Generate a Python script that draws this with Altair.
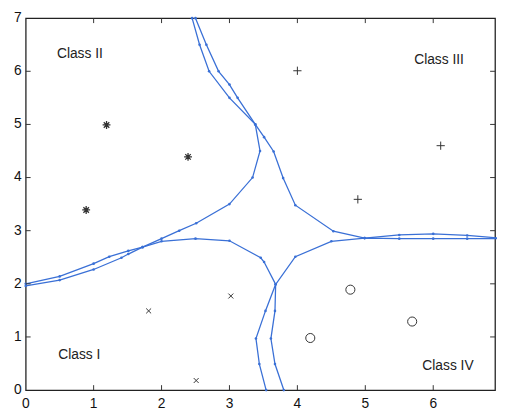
import altair as alt
import pandas as pd

# ---- data ----
segA_x = [2.45, 2.56, 2.70, 3.00, 3.38, 3.45, 3.34, 3.00, 2.51, 2.26, 2.00, 1.72, 1.51, 1.41, 1.00, 0.50, 0.00]
segA_y = [7.00, 6.50, 6.00, 5.50, 5.00, 4.50, 4.00, 3.50, 3.14, 3.00, 2.85, 2.69, 2.56, 2.49, 2.27, 2.07, 1.96]

segB_x = [2.50, 2.66, 2.84, 3.00, 3.12, 3.38, 3.51, 3.65, 3.79, 3.97, 4.53, 4.99, 5.50, 6.00, 6.50, 7.00]
segB_y = [7.00, 6.50, 6.00, 5.75, 5.50, 5.00, 4.76, 4.49, 3.99, 3.48, 2.99, 2.86, 2.92, 2.94, 2.91, 2.86]

segC_x = [0.00, 0.50, 1.00, 1.23, 1.51, 1.72, 2.00, 2.50, 3.00, 3.46, 3.51, 3.68, 3.53, 3.39, 3.44, 3.54]
segC_y = [2.00, 2.14, 2.38, 2.51, 2.62, 2.69, 2.80, 2.85, 2.81, 2.49, 2.41, 1.99, 1.49, 0.97, 0.49, 0.00]

segD_x = [7.00, 6.50, 6.00, 5.50, 4.99, 4.50, 3.97, 3.68, 3.67, 3.61, 3.67, 3.80]
segD_y = [2.85, 2.85, 2.85, 2.85, 2.86, 2.80, 2.51, 1.99, 1.49, 0.97, 0.49, 0.00]

class1_x = [1.81, 3.02, 2.51]
class1_y = [1.49, 1.77, 0.18]
class2_x = [1.19, 2.39, 0.89]
class2_y = [4.99, 4.39, 3.39]
class3_x = [4.00, 6.11, 4.89]
class3_y = [6.01, 4.60, 3.59]
class4_x = [4.78, 5.69, 4.19]
class4_y = [1.89, 1.29, 0.98]
star_x = [4.99]
star_y = [5.01]

label_text = ["Class II", "Class III", "Class I", "Class IV"]
label_x = [0.46, 5.72, 0.48, 5.84]
label_y = [6.33, 6.21, 0.65, 0.45]

x_ticks = [0, 1, 2, 3, 4, 5, 6]
x_tick_labels = ["0", "1", "2", "3", "4", "5", "6"]
y_ticks = [0, 1, 2, 3, 4, 5, 6, 7]
inner_x_ticks = [1, 2, 3, 4, 5, 6]
inner_y_ticks = [1, 2, 3, 4, 5, 6]

W, H = 477, 378
XMAX = 6.91
FONT = "Liberation Sans"
BLUE = "#3a70d6"
MARK = "#333333"
TC = "#333333"

xs = alt.Scale(domain=[0, XMAX], nice=False, zero=False)
ys = alt.Scale(domain=[0, 7], nice=False, zero=False)

YAXIS = alt.Axis(values=y_ticks, format="d", tickSize=0, domain=False, grid=False,
                 labelFontSize=14, labelColor="#111", labelPadding=4, title=None,
                 labelFlush=False, orient="left")


def X(field):
    return alt.X(field, type="quantitative", scale=xs, axis=None)


def Y(field):
    return alt.Y(field, type="quantitative", scale=ys, axis=YAXIS)


layers = []

lab_df = pd.DataFrame({"t": label_text, "x": label_x, "y": label_y})
layers.append(alt.Chart(lab_df).mark_text(
    align="left", baseline="middle", fontSize=14, color="#222"
).encode(x=X("x"), y=Y("y"), text=alt.Text("t", type="nominal")))

for xv, yv in [(segA_x, segA_y), (segB_x, segB_y), (segC_x, segC_y), (segD_x, segD_y)]:
    df = pd.DataFrame({"x": xv, "y": yv, "i": list(range(len(xv)))})
    layers.append(alt.Chart(df).mark_line(color=BLUE, strokeWidth=1.3, clip=True).encode(
        x=X("x"), y=Y("y"), order=alt.Order("i", type="quantitative")))
    layers.append(alt.Chart(df).mark_circle(color=BLUE, size=7, opacity=1, clip=True).encode(
        x=X("x"), y=Y("y")))

tx = pd.DataFrame({"v": inner_x_ticks})
ty = pd.DataFrame({"v": inner_y_ticks})
layers.append(alt.Chart(tx).mark_rule(color=TC, strokeWidth=1).encode(
    x=X("v"), y=alt.value(H), y2=alt.value(H - 5)))
layers.append(alt.Chart(tx).mark_rule(color=TC, strokeWidth=1).encode(
    x=X("v"), y=alt.value(0), y2=alt.value(5)))
layers.append(alt.Chart(ty).mark_rule(color=TC, strokeWidth=1).encode(
    y=Y("v"), x=alt.value(0), x2=alt.value(5)))
layers.append(alt.Chart(ty).mark_rule(color=TC, strokeWidth=1).encode(
    y=Y("v"), x=alt.value(W), x2=alt.value(W - 5)))

# x tick labels, placed through the x scale just below the plot frame
xl = pd.DataFrame({"v": x_ticks, "t": x_tick_labels})
layers.append(alt.Chart(xl).mark_text(
    align="center", baseline="top", fontSize=14, color="#111"
).encode(x=X("v"), y=alt.value(H + 7), text=alt.Text("t", type="nominal")))


def pts(xv, yv, shape, size, filled=False, color=MARK, sw=1.0):
    df = pd.DataFrame({"x": xv, "y": yv})
    return alt.Chart(df).mark_point(shape=shape, size=size, filled=filled, color=color,
                                    strokeWidth=sw, opacity=1).encode(x=X("x"), y=Y("y"))


ASTER = "M-1,0L1,0M0,-1L0,1M-0.7,-0.7L0.7,0.7M-0.7,0.7L0.7,-0.7"
XMARK = "M-1,-1L1,1M-1,1L1,-1"
PLUS = "M-1,0L1,0M0,-1L0,1"

layers.append(pts(class1_x, class1_y, XMARK, 25))
layers.append(pts(class2_x, class2_y, ASTER, 64, sw=1.3))
layers.append(pts(class3_x, class3_y, PLUS, 70))
layers.append(pts(class4_x, class4_y, "circle", 85))
layers.append(pts(star_x, star_y, "star", 170, filled=True, color="#f03a30"))

chart = alt.layer(*layers).properties(
    width=W, height=H,
    autosize=alt.AutoSizeParams(type="none"),
    padding={"left": 18, "top": 7, "right": 2, "bottom": 22},
).configure(font=FONT).configure_view(stroke="#222222", strokeWidth=1.3)

chart.save("out.html", embed_options={"renderer": "svg", "actions": False})
